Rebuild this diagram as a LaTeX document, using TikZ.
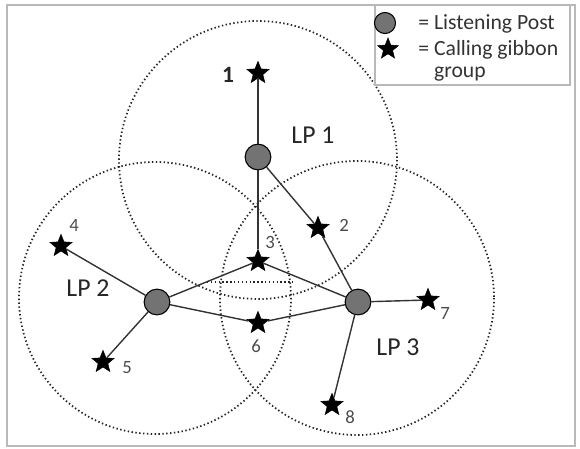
\documentclass[tikz,border=0pt]{standalone}
\usepackage{fontspec}
\setmainfont{Carlito}
\usetikzlibrary{shapes.geometric}

\begin{document}
\begin{tikzpicture}[x=0.03cm, y=-0.03cm,
      lp/.style={draw=black, circle, fill=black!55, minimum size=22pt, inner sep=0pt, line width=0.9pt},
      grp/.style={star, star points=5, star point ratio=2.3, fill=black, draw=black, minimum size=20pt, inner sep=0pt},
      reach/.style={draw=black!85, line width=1.5pt, dash pattern=on 1.2pt off 2.1pt},
      link/.style={draw=black!80, line width=1.2pt},
      num/.style={font=\fontsize{16}{18}\selectfont, text=black!70, inner sep=1pt},
      lpname/.style={font=\fontsize{22}{24}\selectfont, text=black!85, inner sep=1pt},
      key/.style={font=\fontsize{18.5}{19}\selectfont, text=black!80, inner sep=1pt, anchor=west, align=left}]

    \useasboundingbox (0,0) rectangle (580,449);
    \draw[gray!55, line width=2pt] (7,5) rectangle (575,446);

    % detection ranges of the three posts
    \draw[reach] (258,160) circle (139);
    \draw[reach] (155,298) circle (136);
    \draw[reach] (357,298) circle (137);
    \draw[reach] (207,282) -- (293,282);

    % listening posts
    \node[lp] (lp1) at (258,157) {};
    \node[lp] (lp2) at (157,302) {};
    \node[lp] (lp3) at (358,302) {};

    % calling gibbon groups
    \node[grp] (g1) at (258,73)  {};
    \node[grp] (g2) at (318,228) {};
    \node[grp] (g3) at (258,261) {};
    \node[grp] (g4) at (61,246)  {};
    \node[grp] (g5) at (103,362) {};
    \node[grp] (g6) at (258,323) {};
    \node[grp] (g7) at (428,300) {};
    \node[grp] (g8) at (332,405) {};

    \draw[link] (lp1) -- (g1);
    \draw[link] (lp1) -- (g3);
    \draw[link] (lp1) -- (g2);
    \draw[link] (g2)  -- (lp3);
    \draw[link] (lp2) -- (g4);
    \draw[link] (lp2) -- (g5);
    \draw[link] (lp2) -- (g3);
    \draw[link] (g3)  -- (lp3);
    \draw[link] (lp2) -- (g6);
    \draw[link] (g6)  -- (lp3);
    \draw[link] (lp3) -- (g7);
    \draw[link] (lp3) -- (g8);

    \node[font=\bfseries\fontsize{20}{22}\selectfont, text=black!85] (n1) at (228,75) {1};
    \node[num] (n2) at (344,225) {2};
    \node[num] (n3) at (270,242) {3};
    \node[num] (n4) at (74,225)  {4};
    \node[num] (n5) at (127,368) {5};
    \node[num] (n6) at (256,346) {6};
    \node[num] (n7) at (445,313) {7};
    \node[num] (n8) at (350,417) {8};

    \node[lpname] (t1) at (313,135) {LP 1};
    \node[lpname] (t2) at (88,288)  {LP 2};
    \node[lpname] (t3) at (398,347) {LP 3};

    % legend
    \draw[gray!55, line width=1.5pt, fill=white] (375,5) rectangle (570,85);
    \node[lp, minimum size=18pt] (klp) at (385,23) {};
    \node[grp, minimum size=19pt] (kgrp) at (388,49) {};
    \node[key] (kt1) at (417,24) {= Listening Post};
    \node[key] (kt2) at (417,61) {= Calling gibbon\\\phantom{= }group};

\end{tikzpicture}
\end{document}
